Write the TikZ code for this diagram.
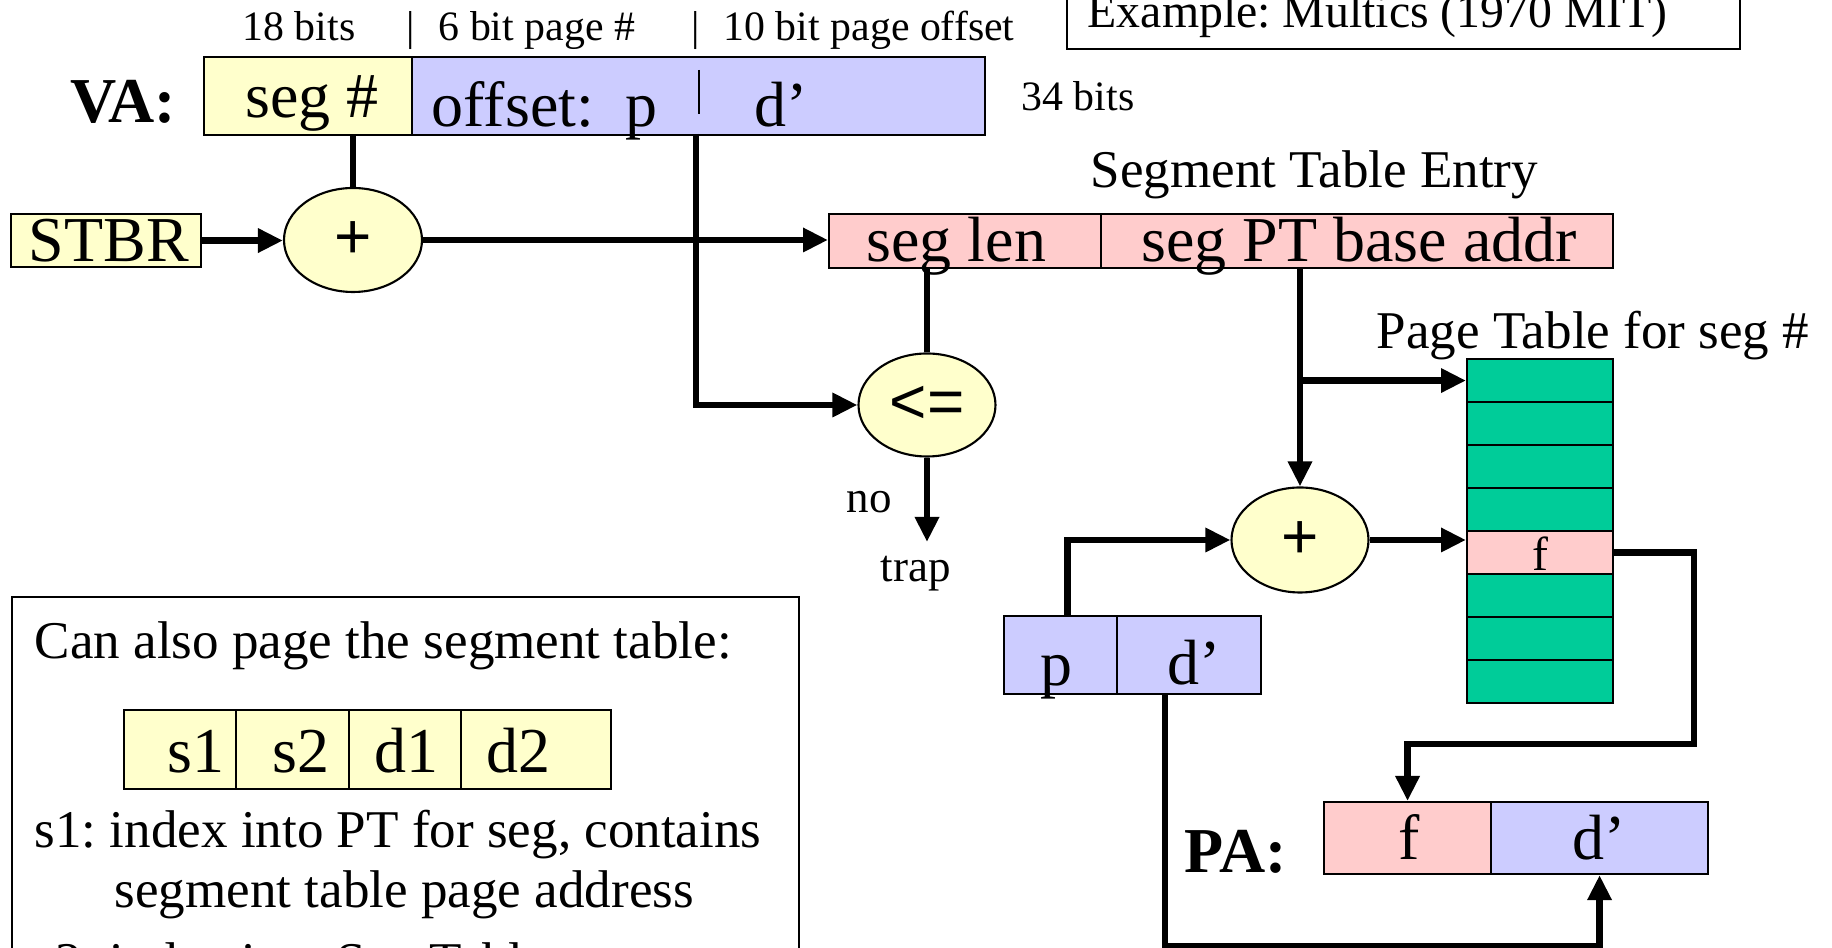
\documentclass[tikz,border=0pt]{standalone}
\usepackage{fontspec}
\setmainfont{Liberation Serif}
\newfontfamily\opfont{Liberation Sans}
\frenchspacing
\usetikzlibrary{arrows.meta}
\usetikzlibrary{shapes.geometric}
\usetikzlibrary{calc}
\definecolor{fieldyellow}{rgb}{1,1,0.8}
\definecolor{fieldblue}{rgb}{0.8,0.8,1}
\definecolor{fieldpink}{rgb}{1,0.8,0.8}
\definecolor{ptgreen}{rgb}{0,0.8,0.6}
\newcommand{\drawfield}[5]{
  \node[field,fill=#5,minimum width=#3cm,minimum height=#4cm] (#1) at #2 {};
}
\tikzset{
  field/.style={draw,line width=0.6pt,inner sep=0pt,anchor=north west},
  adder/.style={ellipse,draw,fill=fieldyellow,line width=0.6pt,inner sep=0pt,
    font=\opfont\fontsize{18.2}{20}\selectfont},
  wire/.style={line width=1.9pt},
  conn/.style={wire,-{Triangle[length=0.25cm,width=0.23cm]}},
  txt/.style={inner sep=0pt,anchor=base west},
  big/.style={txt,font=\fontsize{18.2}{20}\selectfont},
  bigbold/.style={txt,font=\bfseries\fontsize{18.2}{20}\selectfont},
  hdr/.style={txt,font=\fontsize{11.9}{14}\selectfont},
  title/.style={txt,font=\fontsize{15.1}{18}\selectfont},
  small/.style={txt,font=\fontsize{12.8}{15}\selectfont}
}
\begin{document}
\begin{tikzpicture}
  \useasboundingbox (0,0) rectangle (18.32,-9.48);

  % bit widths over the virtual address
  \node[hdr] (bits18) at (2.42,-0.41) {18 bits};
  \node[hdr,anchor=base] (bar1) at (4.11,-0.41) {|};
  \node[hdr] (bits6) at (4.38,-0.41) {6 bit page \#};
  \node[hdr,anchor=base] (bar2) at (6.96,-0.41) {|};
  \node[hdr] (bits10) at (7.23,-0.41) {10 bit page offset};
  \draw[line width=0.6pt] (10.67,0.3) rectangle (17.40,-0.49);
  \node[txt,font=\fontsize{13.6}{16}\selectfont] (multics) at (10.87,-0.28) {Example: Multics (1970 MIT)};

  % virtual address
  \node[bigbold] (va) at (0.70,-1.23) {VA:};
  \drawfield{segnum}{(2.03,-0.56)}{2.08}{0.78}{fieldyellow};
  \drawfield{vaoffset}{(4.11,-0.56)}{5.73}{0.78}{fieldblue};
  \draw[line width=0.5pt] (6.99,-0.70) -- (6.99,-1.14);
  \node[big] (segnumtxt) at (2.45,-1.18) {seg \#};
  \node[big] (offsettxt) at (4.31,-1.27) {offset:\ \ p};
  \node[big] (vadtxt) at (7.54,-1.27) {d'};
  \node[hdr] (bits34) at (10.21,-1.11) {34 bits};
  \coordinate (vasplit) at (6.96,-1.34);

  % segment table base + segment number
  \drawfield{stbr}{(0.10,-2.13)}{1.90}{0.53}{fieldyellow};
  \node[big] (stbrtxt) at (0.28,-2.62) {STBR};
  \node[adder,minimum width=1.38cm,minimum height=1.04cm] (add1) at (3.53,-2.40) {+};

  % segment table entry
  \node[title] (stetitle) at (10.90,-1.88) {Segment Table Entry};
  \drawfield{seglen}{(8.28,-2.13)}{2.72}{0.54}{fieldpink};
  \drawfield{segbase}{(11.00,-2.13)}{5.12}{0.54}{fieldpink};
  \node[big] (seglentxt) at (8.66,-2.62) {seg len};
  \node[big] (segbasetxt) at (11.41,-2.62) {seg PT base addr};

  % length check
  \node[adder,minimum width=1.37cm,minimum height=1.03cm] (cmp) at (9.27,-4.05) {<=};
  \node[small] (notxt) at (8.46,-5.13) {no};
  \node[small] (traptxt) at (8.80,-5.82) {trap};
  \coordinate (trapend) at (9.27,-5.42);

  % page table of the segment
  \node[title] (pttitle) at (13.76,-3.49) {Page Table for seg \#};
  \foreach \i/\col in {0/ptgreen,1/ptgreen,2/ptgreen,3/ptgreen,4/fieldpink,5/ptgreen,6/ptgreen,7/ptgreen} {
    \drawfield{pt\i}{(14.66,{-3.58-0.43*\i})}{1.46}{0.43}{\col};
  }
  \node[txt,anchor=base,font=\fontsize{13.6}{16}\selectfont] (ptftxt) at (15.40,-5.71) {f};
  \node[adder,minimum width=1.37cm,minimum height=1.05cm] (add2) at (13.00,-5.40) {+};

  % page number and offset
  \drawfield{pfield}{(10.03,-6.15)}{1.13}{0.78}{fieldblue};
  \drawfield{dfield}{(11.16,-6.15)}{1.44}{0.78}{fieldblue};
  \node[big] (ptxt) at (10.40,-6.86) {p};
  \node[big] (dtxt) at (11.67,-6.85) {d'};

  % physical address
  \node[bigbold] (pa) at (11.84,-8.73) {PA:};
  \drawfield{paf}{(13.23,-8.01)}{1.67}{0.72}{fieldpink};
  \drawfield{pad}{(14.90,-8.01)}{2.17}{0.72}{fieldblue};
  \node[big] (paftxt) at (13.98,-8.60) {f};
  \node[big] (padtxt) at (15.72,-8.60) {d'};

  % paging the segment table
  \draw[line width=0.6pt] (0.12,-5.97) rectangle (7.99,-10.2);
  \node[title] (note0) at (0.34,-6.59) {Can also page the segment table:};
  \drawfield{fs1}{(1.23,-7.09)}{1.12}{0.79}{fieldyellow};
  \drawfield{fs2}{(2.35,-7.09)}{1.13}{0.79}{fieldyellow};
  \drawfield{fd1}{(3.48,-7.09)}{1.12}{0.79}{fieldyellow};
  \drawfield{fd2}{(4.60,-7.09)}{1.50}{0.79}{fieldyellow};
  \node[big] (s1txt) at (1.67,-7.73) {s1};
  \node[big] (s2txt) at (2.72,-7.73) {s2};
  \node[big] (d1txt) at (3.74,-7.73) {d1};
  \node[big] (d2txt) at (4.86,-7.73) {d2};
  \node[title] (note1) at (0.34,-8.48) {s1: index into PT for seg, contains};
  \node[title] (note2) at (1.14,-9.08) {segment table page address};
  \node[title] (note3) at (0.34,-9.80) {s2: index into Seg Table};

  % data paths
  \draw[wire] (add1.north |- segnum.south) -- (add1.north);
  \draw[conn] (stbr.east) -- (stbr.east -| add1.west);
  \draw[conn] (add1.east) -- (add1.east -| seglen.west);
  \draw[conn] (vasplit) |- (cmp.west);
  \draw[wire] (cmp.north |- seglen.south) -- (cmp.north);
  \draw[conn] (cmp.south) -- (trapend);
  \draw[conn] (add2.north |- segbase.south) -- (add2.north);
  \draw[conn] (add2.north |- pt0.west) -- (pt0.west);
  \draw[conn] ($(pfield.north)+(0.07,0)$) |- (add2.west);
  \draw[conn] (add2.east) -- (add2.east -| pt4.west);
  \draw[conn] (pt4.east) -- ++(0.80,0) |- ($(paf.north)+(0,0.57)$) -- (paf.north);
  \draw[conn] ($(dfield.south)+(-0.24,0)$) -- ++(0,-2.51) -| (pad.south);
\end{tikzpicture}
\end{document}
